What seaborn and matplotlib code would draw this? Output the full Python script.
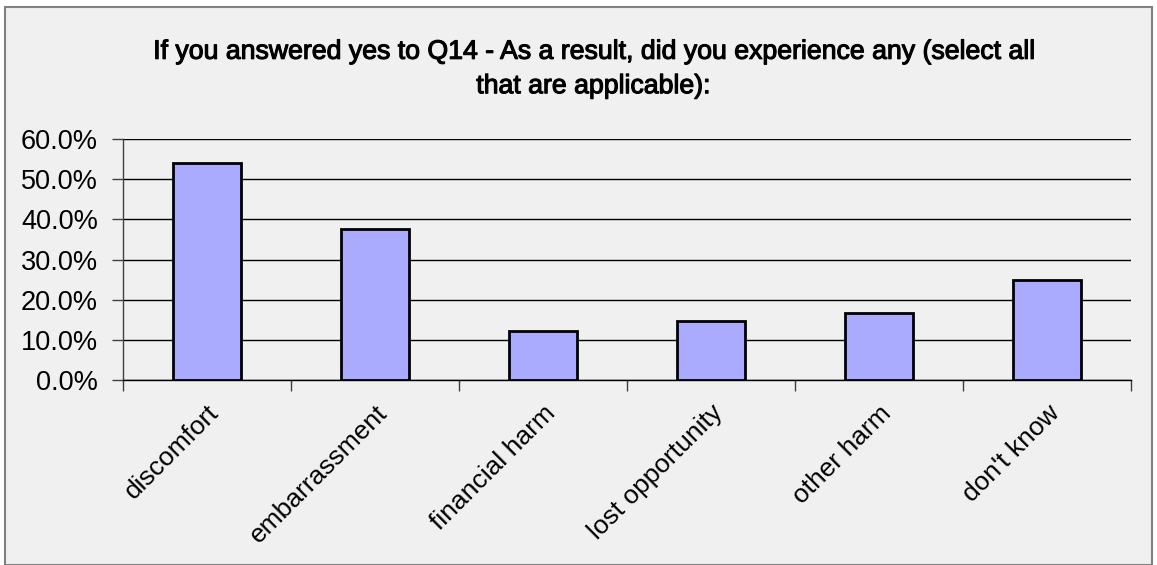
import matplotlib
matplotlib.use("Agg")
import matplotlib.pyplot as plt
import matplotlib.patheffects as pe
from matplotlib.ticker import FixedLocator, PercentFormatter
from matplotlib.patches import Rectangle
import seaborn as sns
import pandas as pd

categories = ["discomfort", "embarrassment", "financial harm",
              "lost opportunity", "other harm", "don't know"]
shares = [54.0, 37.6, 12.2, 14.7, 16.7, 24.9]
y_ticks = [0, 10, 20, 30, 40, 50, 60]
title = ("If you answered yes to Q14 - As a result, did you experience any (select all\n"
         "that are applicable):")

sns.set_theme(style="white")
plt.rcParams["font.family"] = ["Liberation Sans", "DejaVu Sans"]

bg = "#f0f0f0"
fig = plt.figure(figsize=(11.57, 5.65), dpi=100, facecolor="white")
fig.patches.append(Rectangle((0.004, 0.0), 0.992, 0.987, transform=fig.transFigure,
                             facecolor=bg, edgecolor="#808080", linewidth=1.5, zorder=-1))

ax = fig.add_axes([123 / 1157, 1 - 380 / 565, (1131 - 123) / 1157, (380 - 139) / 565])
ax.set_facecolor(bg)

df = pd.DataFrame({"category": categories, "share": shares})
sns.barplot(data=df, x="category", y="share", ax=ax, width=0.4,
            color="#aaaaff", saturation=1, edgecolor="black", linewidth=2, zorder=3)

ax.set_ylim(0, 60)
ax.set_xlim(-0.5, len(categories) - 0.5)
ax.yaxis.set_major_locator(FixedLocator(y_ticks))
ax.yaxis.set_major_formatter(PercentFormatter(decimals=1))
ax.grid(axis="y", color="black", linewidth=1, zorder=0)
ax.grid(axis="x", visible=False)
ax.set_xlabel("")
ax.set_ylabel("")

for side in ("top", "right"):
    ax.spines[side].set_visible(False)
ax.spines["left"].set_color("#404040")
ax.spines["bottom"].set_color("black")
ax.spines["left"].set_linewidth(1)
ax.spines["bottom"].set_linewidth(1)

ax.tick_params(axis="y", which="major", left=True, length=8, width=1, color="#404040",
               labelsize=19.5, pad=10, labelcolor="black")
ax.tick_params(axis="x", which="major", bottom=False, labelsize=19, pad=9, labelcolor="black")
ax.xaxis.set_minor_locator(FixedLocator([i - 0.5 for i in range(len(categories) + 1)]))
ax.tick_params(axis="x", which="minor", bottom=True, length=8, width=1, color="#404040")
for lab in ax.get_xticklabels():
    lab.set_rotation(45)
    lab.set_ha("right")
    lab.set_rotation_mode("anchor")

fig.text(0.5126, 1 - 69 / 565, title, ha="center", va="center", fontsize=19.2,
         linespacing=1.42, color="black",
         path_effects=[pe.withStroke(linewidth=0.8, foreground="black")])

fig.savefig("out.png", dpi=100, facecolor="white")
